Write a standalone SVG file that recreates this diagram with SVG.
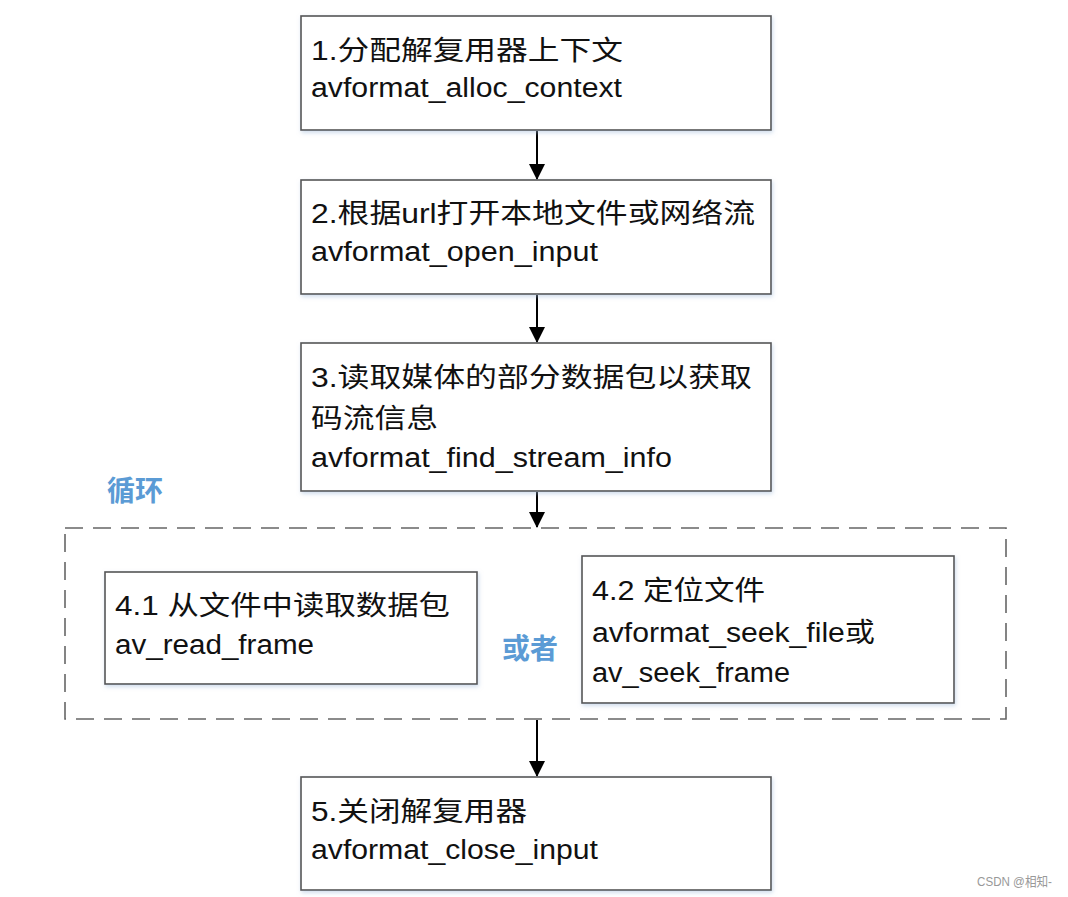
<svg xmlns="http://www.w3.org/2000/svg" width="1068" height="897" viewBox="0 0 1068 897">
<defs>
<marker id="arr" markerWidth="16" markerHeight="16" refX="15" refY="8" orient="auto" markerUnits="userSpaceOnUse">
<path d="M0,0 L16,8 L0,16 Z" fill="#000"/>
</marker>
<filter id="sh" x="-5%" y="-5%" width="110%" height="115%">
<feDropShadow dx="1" dy="2" stdDeviation="2" flood-color="#9db8d9" flood-opacity="0.5"/>
</filter>
</defs>
<style>
.box{fill:#fff;stroke:#555;stroke-width:1.6;filter:url(#sh)}
.t{font-family:"Liberation Sans","Noto Sans CJK SC",sans-serif;font-size:27px;fill:#111}
.blue{font-family:"Noto Sans CJK SC","Liberation Sans",sans-serif;font-size:28px;font-weight:bold;fill:#5b9bd5}
.edge{stroke:#000;stroke-width:2;fill:none;marker-end:url(#arr)}
.loop{fill:none;stroke:#666;stroke-width:1.6;stroke-dasharray:18 10}
</style>
<rect width="1068" height="897" fill="#fff"/>

<g id="loop">
<rect class="loop" x="65" y="528" width="941" height="191"/>
<text class="blue" x="107" y="501">循环</text>
<text class="blue" x="502" y="659">或者</text>
</g>

<g id="connectors">
<line class="edge" x1="537" y1="131" x2="537" y2="179"/>
<line class="edge" x1="537" y1="295" x2="537" y2="342"/>
<line class="edge" x1="537" y1="492" x2="537" y2="527"/>
<line class="edge" x1="537" y1="720" x2="537" y2="776"/>
</g>

<g id="n1">
<rect class="box" x="301" y="16" width="470" height="114"/>
<text class="t" x="311" y="60" textLength="312" lengthAdjust="spacingAndGlyphs">1.分配解复用器上下文</text>
<text class="t" x="311" y="97" textLength="311" lengthAdjust="spacingAndGlyphs">avformat_alloc_context</text>
</g>

<g id="n2">
<rect class="box" x="301" y="180" width="470" height="114"/>
<text class="t" x="311" y="223" textLength="444" lengthAdjust="spacingAndGlyphs">2.根据url打开本地文件或网络流</text>
<text class="t" x="311" y="261" textLength="287" lengthAdjust="spacingAndGlyphs">avformat_open_input</text>
</g>

<g id="n3">
<rect class="box" x="301" y="343" width="470" height="148"/>
<text class="t" x="311" y="387" textLength="441" lengthAdjust="spacingAndGlyphs">3.读取媒体的部分数据包以获取</text>
<text class="t" x="311" y="428" textLength="127" lengthAdjust="spacingAndGlyphs">码流信息</text>
<text class="t" x="311" y="467" textLength="361" lengthAdjust="spacingAndGlyphs">avformat_find_stream_info</text>
</g>

<g id="n41">
<rect class="box" x="105" y="572" width="372" height="112"/>
<text class="t" x="115" y="615" textLength="335" lengthAdjust="spacingAndGlyphs">4.1 从文件中读取数据包</text>
<text class="t" x="115" y="654" textLength="199" lengthAdjust="spacingAndGlyphs">av_read_frame</text>
</g>

<g id="n42">
<rect class="box" x="582" y="556" width="372" height="147"/>
<text class="t" x="592" y="600" textLength="173" lengthAdjust="spacingAndGlyphs">4.2 定位文件</text>
<text class="t" x="592" y="642" textLength="283" lengthAdjust="spacingAndGlyphs">avformat_seek_file或</text>
<text class="t" x="592" y="682" textLength="198" lengthAdjust="spacingAndGlyphs">av_seek_frame</text>
</g>

<g id="n5">
<rect class="box" x="301" y="777" width="470" height="113"/>
<text class="t" x="311" y="821" textLength="216" lengthAdjust="spacingAndGlyphs">5.关闭解复用器</text>
<text class="t" x="311" y="859" textLength="287" lengthAdjust="spacingAndGlyphs">avformat_close_input</text>
</g>

<text x="977" y="886" font-family="Liberation Sans,Noto Sans CJK SC,sans-serif" font-size="13" fill="#999" textLength="75" lengthAdjust="spacingAndGlyphs">CSDN @相知-</text>
</svg>
